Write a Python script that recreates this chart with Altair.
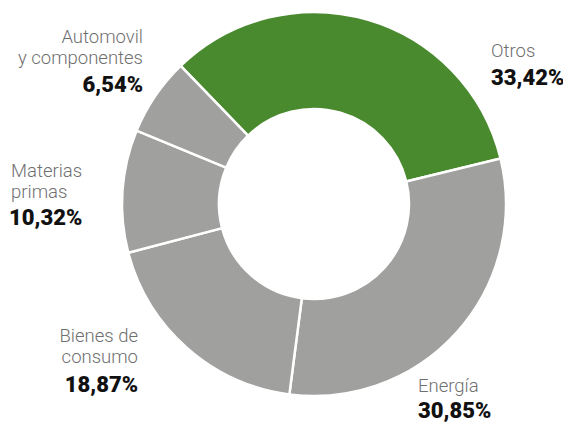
import math
import altair as alt
import pandas as pd

categories = ["Otros", "Energía", "Bienes de consumo", "Materias primas", "Automovil y componentes"]
values = [33.42, 30.85, 18.87, 10.32, 6.54]
label_lines = [["Otros"], ["Energía"], ["Bienes de", "consumo"], ["Materias", "primas"], ["Automovil", "y componentes"]]
colors = ["#4a8a2f", "#a0a09f", "#a0a09f", "#a0a09f", "#a0a09f"]

df = pd.DataFrame({
    "cat": categories,
    "value": values,
    "order": list(range(len(categories))),
})

start = math.radians(-44)

arc = alt.Chart(df).mark_arc(
    outerRadius=192, innerRadius=95, stroke="white", strokeWidth=2.5
).encode(
    theta=alt.Theta("value:Q", stack=True, scale=alt.Scale(range=[start, start + 2 * math.pi])),
    order=alt.Order("order:Q"),
    color=alt.Color("cat:N", scale=alt.Scale(domain=categories, range=colors), legend=None),
    x=alt.value(306),
    y=alt.value(196),
)

# label anchors (plot coords): x, baseline of first line, align, baseline of pct
anchors = [
    (483, 49, "left", 77),
    (410, 384, "left", 410),
    (130, 334, "right", 384),
    (3, 169, "left", 217),
    (135, 35, "right", 84),
]

layers = [arc]
for i, cat in enumerate(categories):
    ax, ay, al, py = anchors[i]
    pct = f"{values[i]:.2f}".replace(".", ",") + "%"
    ldf = pd.DataFrame({"lines": [label_lines[i]], "pct": [pct]})
    layers.append(
        alt.Chart(ldf).mark_text(
            font="Roboto", fontWeight=300, fontSize=18.5, color="#6f6f6f",
            align=al, baseline="alphabetic", lineHeight=21,
        ).encode(text="lines", x=alt.value(ax), y=alt.value(ay))
    )
    layers.append(
        alt.Chart(ldf).mark_text(
            font="Roboto", fontWeight=900, fontSize=22, color="#111111",
            align=al, baseline="alphabetic",
        ).encode(text="pct:N", x=alt.value(ax - (2 if al == "left" and i == 3 else 0)), y=alt.value(py))
    )

chart = alt.layer(*layers).properties(
    width=555, height=414, autosize=alt.AutoSizeParams(type="none"), padding=0
).configure_view(stroke=None)

chart.save("out.html", embed_options={"renderer": "svg", "actions": False})
